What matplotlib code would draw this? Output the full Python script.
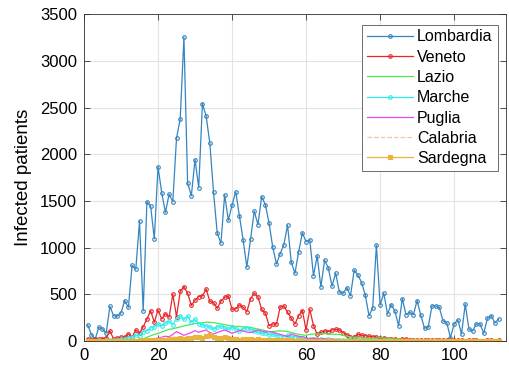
import matplotlib
matplotlib.use("Agg")
import matplotlib.pyplot as plt
import numpy as np

plt.rcParams['font.family'] = ['Liberation Sans', 'DejaVu Sans']

days = list(range(1, 113))

lombardia = [172, 68, 18, 145, 128, 84, 369, 270, 266, 300, 431, 361, 808, 769, 1280, 322,
             1489, 1445, 1095, 1865, 1587, 1377, 1571, 1493, 2171, 2380, 3251, 1691, 1555, 1942,
             1643, 2543, 2409, 2117, 1592, 1154, 1047, 1565, 1292, 1455, 1598, 1337, 1079, 791,
             1089, 1388, 1246, 1544, 1460, 1262, 1003, 825, 935, 1031, 1239, 843, 725, 957, 1157,
             1064, 1085, 700, 910, 578, 864, 782, 589, 725, 525, 511, 571, 485, 757, 707, 625, 489,
             271, 353, 1025, 386, 511, 289, 389, 318, 164, 453, 282, 307, 282, 432, 275, 136, 146,
             375, 375, 360, 214, 196, 36, 182, 225, 75, 393, 128, 107, 182, 182, 82, 243, 271, 193, 232]

veneto = [20, 10, 20, 25, 25, 30, 110, 20, 30, 40, 40, 75, 45, 118, 82, 153, 232, 325, 200, 332,
          236, 290, 254, 500, 260, 530, 582, 510, 380, 435, 475, 482, 555, 425, 410, 350, 425, 468,
          482, 339, 343, 386, 360, 314, 453, 511, 471, 339, 296, 164, 182, 182, 361, 375, 307, 243,
          182, 271, 325, 118, 339, 164, 71, 93, 107, 100, 118, 125, 118, 89, 64, 46, 46, 71, 60, 55,
          50, 45, 40, 30, 35, 25, 20, 25, 15, 20, 18, 15, 12, 10, 12, 8, 10, 12, 8, 6, 10, 8, 5, 6,
          8, 5, 4, 6, 5, 8, 4, 3, 5, 6, 4, 5]

lazio = [0, 0, 1, 1, 2, 2, 3, 3, 3, 4, 4, 5, 5, 10, 15, 20, 40, 55, 70, 80, 95, 110, 125, 130,
         140, 150, 160, 170, 175, 185, 190, 195, 200, 200, 195, 190, 180, 175, 165, 160, 155, 155,
         150, 150, 145, 135, 127, 120, 110, 100, 100, 105, 107, 105, 100, 90, 80, 70, 65, 60, 70,
         75, 75, 75, 78, 75, 72, 70, 70, 60, 50, 45, 40, 35, 30, 30, 28, 25, 30, 35, 30, 28, 25,
         20, 22, 18, 15, 15, 14, 16, 15, 13, 12, 14, 15, 12, 10, 12, 14, 12, 10, 9, 11, 12, 10, 9,
         10, 12, 11, 9, 10, 11]

marche = [0, 0, 1, 5, 2, 10, 5, 10, 15, 20, 25, 30, 45, 60, 55, 100, 110, 140, 150, 180, 160,
          190, 210, 175, 240, 270, 230, 265, 200, 230, 185, 170, 160, 150, 125, 150, 160, 140, 125,
          150, 130, 107, 130, 143, 120, 110, 95, 82, 90, 64, 70, 60, 55, 46, 60, 40, 45, 35, 30, 25,
          18, 25, 20, 22, 15, 18, 12, 15, 10, 12, 8, 10, 6, 8, 5, 6, 4, 5, 6, 4, 3, 5, 4, 3, 2, 4, 3,
          2, 3, 2, 1, 2, 3, 2, 1, 2, 1, 2, 1, 1, 2, 1, 1, 0, 1, 2, 1, 0, 1, 1, 0, 1]

puglia = [0, 0, 0, 0, 1, 0, 1, 0, 1, 1, 2, 2, 3, 3, 5, 10, 15, 20, 25, 30, 40, 50, 45, 70, 100,
          80, 60, 75, 90, 110, 93, 105, 118, 90, 75, 90, 105, 118, 100, 82, 95, 110, 107, 95, 89,
          100, 118, 105, 95, 100, 90, 82, 70, 60, 46, 75, 60, 50, 45, 35, 20, 30, 25, 20, 25, 15,
          20, 15, 10, 12, 8, 10, 6, 8, 5, 6, 5, 4, 6, 5, 3, 4, 5, 3, 2, 4, 3, 2, 3, 2, 1, 2, 3, 2, 1,
          2, 1, 2, 1, 1, 2, 1, 1, 0, 1, 2, 1, 0, 1, 1, 0, 1]

calabria = [0, 0, 0, 0, 0, 0, 0, 0, 1, 1, 2, 3, 5, 8, 10, 12, 15, 18, 20, 25, 30, 28, 35, 40,
            38, 35, 30, 35, 40, 38, 35, 30, 32, 28, 25, 30, 28, 25, 22, 20, 25, 22, 20, 18, 15, 18,
            15, 12, 10, 12, 10, 8, 10, 8, 6, 8, 5, 6, 4, 5, 4, 3, 4, 3, 2, 3, 2, 2, 3, 2, 1, 2, 1, 1,
            2, 1, 1, 0, 1, 1, 0, 1, 0, 1, 0, 0, 1, 0, 0, 1, 0, 0, 0, 1, 0, 0, 0, 1, 0, 0, 0, 0, 1, 0,
            0, 0, 0, 1, 0, 0, 0, 0]

sardegna = [0, 0, 0, 0, 0, 0, 0, 0, 0, 1, 2, 1, 3, 2, 5, 4, 8, 10, 6, 12, 15, 10, 20, 25, 18, 30,
            22, 35, 28, 40, 45, 35, 50, 64, 40, 30, 35, 40, 30, 20, 25, 15, 20, 25, 18, 15, 20, 12,
            10, 15, 12, 8, 10, 6, 8, 5, 4, 6, 3, 4, 2, 3, 2, 1, 2, 1, 2, 1, 0, 1, 0, 1, 0, 1, 0, 0, 1,
            0, 0, 1, 0, 0, 0, 1, 0, 0, 0, 0, 1, 0, 0, 0, 0, 0, 1, 0, 0, 0, 0, 0, 0, 1, 0, 0, 0, 0, 0,
            0, 1, 0, 0, 0]

names = ['Lombardia', 'Veneto', 'Lazio', 'Marche', 'Puglia', 'Calabria', 'Sardegna']
series = [lombardia, veneto, lazio, marche, puglia, calabria, sardegna]
colors = ['#3585c0', '#e8262a', '#4de84d', '#30ecec', '#e84ce8', '#f2c4a8', '#ebb23c']
markers = ['o', 'o', None, 'o', None, None, 's']
styles = ['-', '-', '-', '-', '-', '--', '-']

fig = plt.figure(figsize=(5.09, 3.73), dpi=100)
ax = fig.add_axes([0.165, 0.086, 0.829, 0.876])

for name, vals, c, m, ls in zip(names, series, colors, markers, styles):
    ax.plot(days, vals, color=c, marker=m, linestyle=ls, linewidth=0.9,
            markersize=2.6, markerfacecolor='none' if m == 'o' else c,
            markeredgewidth=0.8, label=name)

ax.set_xlim(0, 114)
ax.set_ylim(0, 3500)
ax.set_xticks([0, 20, 40, 60, 80, 100])
ax.set_yticks(np.arange(0, 3501, 500))
ax.grid(True, color='#e3e3e3', linewidth=0.8)
ax.set_axisbelow(True)
ax.tick_params(direction='in', top=True, right=True, labelsize=12, length=4,
               color='#333333', width=0.6, pad=5)
for s in ax.spines.values():
    s.set_color('#333333')
    s.set_linewidth(0.6)
ax.set_ylabel('Infected patients', fontsize=13.5, labelpad=6)

leg = ax.legend(loc='upper right', fontsize=11.5, fancybox=False, framealpha=1,
                edgecolor='#555555', handlelength=2.9, borderpad=0.3, labelspacing=0.33,
                handletextpad=0.25, borderaxespad=0, bbox_to_anchor=(0.98, 0.968))
leg.get_frame().set_linewidth(0.6)

fig.savefig('out.png', dpi=100)
